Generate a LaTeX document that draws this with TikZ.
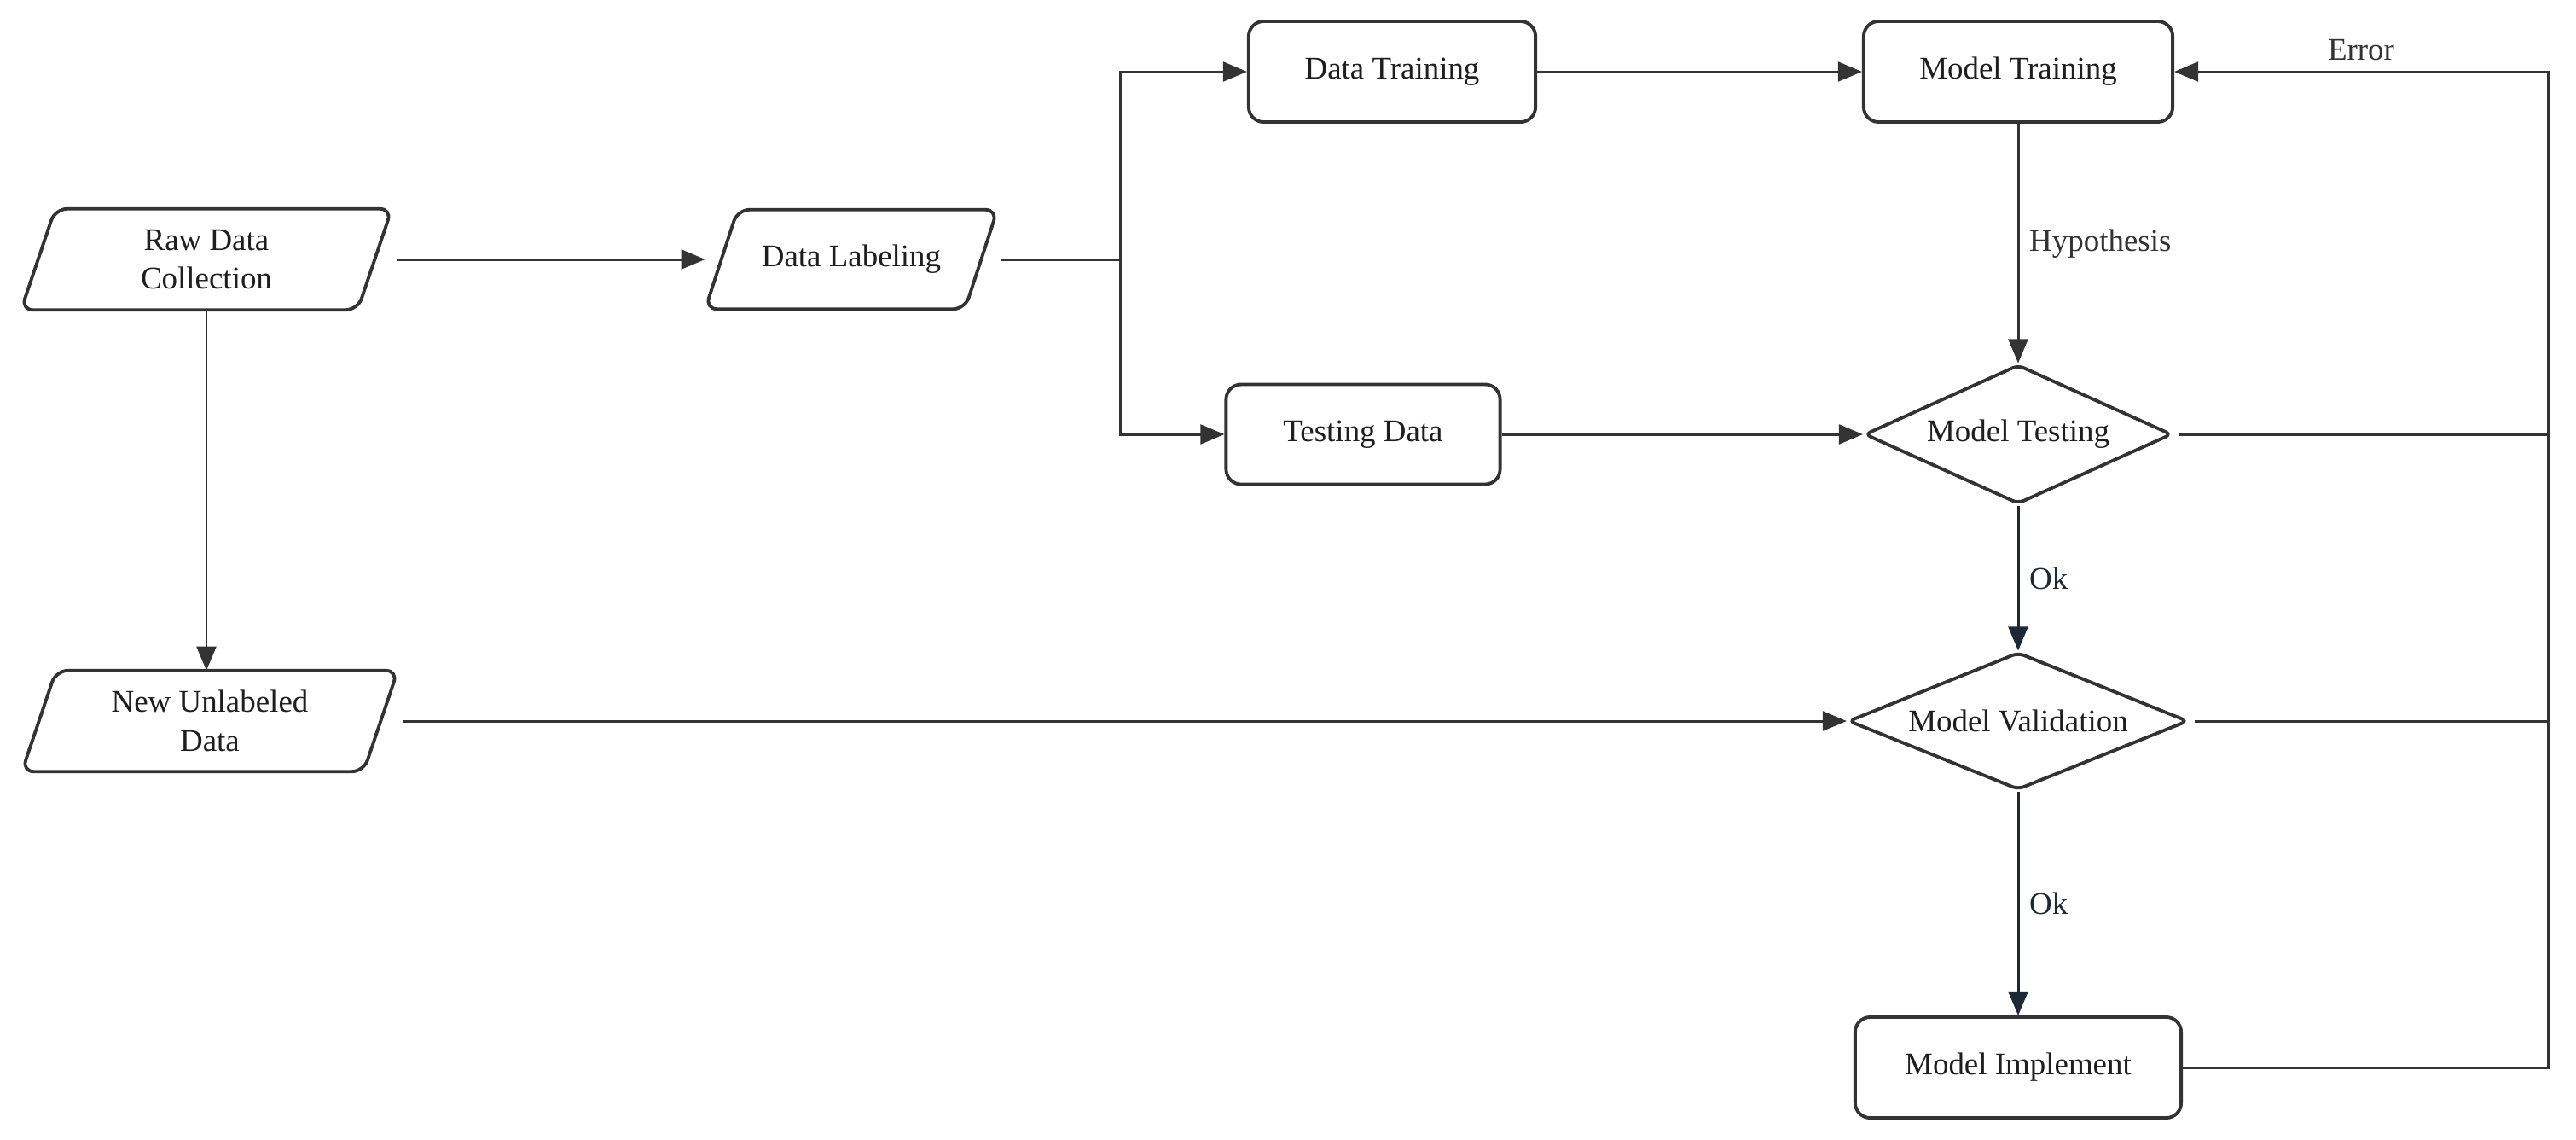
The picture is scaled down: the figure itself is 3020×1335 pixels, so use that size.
\documentclass[tikz,border=0pt]{standalone}
\usepackage{fontspec}
\setmainfont{Liberation Serif}
\usetikzlibrary{shapes.geometric,arrows.meta,calc}
\definecolor{ln}{HTML}{333333}
\definecolor{tx}{HTML}{1E1E1E}
\definecolor{okc}{HTML}{1C2833}
\begin{document}
\begin{tikzpicture}[x=0.01cm,y=-0.01cm,
  every node/.style={font=\fontsize{10.5}{13}\selectfont, text=tx},
  box/.style={draw=ln, line width=1.1pt, rounded corners=5pt, fill=white, align=center, inner sep=0pt},
  parabox/.style={align=center, inner sep=0pt, rectangle},
  paraline/.style={draw=ln, line width=1.1pt, rounded corners=4pt},
  dia/.style={draw=ln, line width=1.1pt, diamond, aspect=2.4, inner sep=0pt, rounded corners=2pt, fill=white},
  conn/.style={draw=ln, line width=0.85pt},
  arr/.style={conn, -{Triangle[length=8pt,width=6.5pt]}},
  okarr/.style={arr, draw=okc},
  lbl/.style={text=ln},
  oklbl/.style={text=okc}
]
\fill[white] (0,0) rectangle (3020,1335);
\useasboundingbox (0,0) rectangle (3020,1335);

\node[box, minimum width=3.36cm, minimum height=1.18cm] (dtr) at (1632,84) {Data Training};
\node[box, minimum width=3.62cm, minimum height=1.18cm] (mtr) at (2366,84) {Model Training};
\node[box, minimum width=3.21cm, minimum height=1.17cm] (tsd) at (1598,509) {Testing Data};
\node[dia, minimum width=3.6cm, minimum height=1.63cm] (mte) at (2366,509) {Model Testing};
\node[dia, minimum width=3.98cm, minimum height=1.61cm] (mva) at (2366,845) {Model Validation};
\node[box, minimum width=3.82cm, minimum height=1.18cm] (mim) at (2366,1251) {Model Implement};
\node[parabox, minimum width=4.33cm, minimum height=1.17cm] (raw) at (242,304) {Raw Data\\Collection};
\node[parabox, minimum width=3.41cm, minimum height=1.15cm] (lab) at (998,304) {Data Labeling};
\node[parabox, minimum width=4.39cm, minimum height=1.17cm] (new) at (246,845) {New Unlabeled\\Data};

\draw[paraline] (raw.south west) -- ($(raw.north west)+(40,0)$) -- (raw.north east) -- ($(raw.south east)-(40,0)$) -- cycle;
\draw[paraline] (lab.south west) -- ($(lab.north west)+(38,0)$) -- (lab.north east) -- ($(lab.south east)-(38,0)$) -- cycle;
\draw[paraline] (new.south west) -- ($(new.north west)+(40,0)$) -- (new.north east) -- ($(new.south east)-(40,0)$) -- cycle;

\coordinate (br) at (1313,304);
\coordinate (fb) at (2987,84);

\draw[arr] ($(raw.east)+(6,0)$) -- (lab.west);
\draw[conn] ($(lab.east)+(4,0)$) -- (br);
\draw[arr] (br) |- (dtr.west);
\draw[arr] (br) |- (tsd.west);
\draw[arr] (dtr) -- (mtr);
\draw[arr] (tsd) -- (mte);
\draw[arr] (mtr) -- node[right, lbl] {Hypothesis} (mte);
\draw[okarr] (mte) -- node[right, oklbl] {Ok} (mva);
\draw[okarr] (mva) -- node[right, oklbl] {Ok} (mim);
\draw[arr] (raw.south) -- (raw.south |- new.north);
\draw[arr] ($(new.east)+(6,0)$) -- (mva.west);
\draw[conn] ($(mte.east)+(6,0)$) -- (mte.east -| fb);
\draw[conn] ($(mva.east)+(6,0)$) -- (mva.east -| fb);
\draw[arr] (mim.east) -| (fb) -- node[above, lbl] {Error} (mtr.east);
\end{tikzpicture}
\end{document}
